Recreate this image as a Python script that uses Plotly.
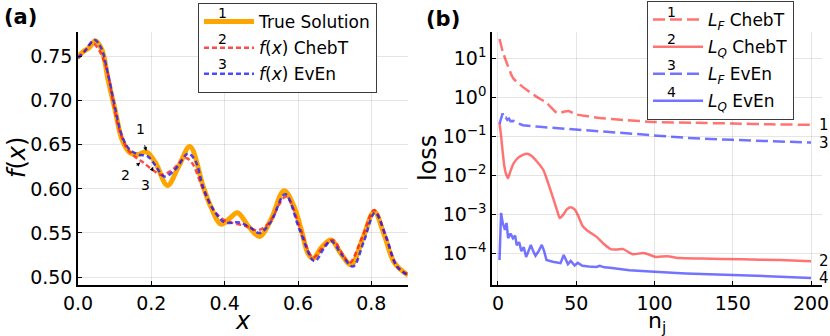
import math
import plotly.graph_objects as go

W, H = 830, 336

# ---------------- Panel (a) data ----------------
x_true = [0.0, 0.015, 0.03, 0.047, 0.065, 0.082, 0.101, 0.12, 0.142, 0.164, 0.186, 0.211, 0.244,
          0.274, 0.305, 0.342, 0.362, 0.390, 0.412, 0.435, 0.466, 0.495, 0.526, 0.562, 0.589, 0.61,
          0.627, 0.641, 0.665, 0.690, 0.718, 0.745, 0.776, 0.808, 0.835, 0.863, 0.9]
y_true = [0.750, 0.756, 0.760, 0.768, 0.758, 0.724, 0.690, 0.656, 0.641, 0.639, 0.642, 0.630, 0.604,
          0.625, 0.648, 0.602, 0.580, 0.560, 0.566, 0.573, 0.557, 0.546, 0.565, 0.598, 0.580, 0.552,
          0.527, 0.521, 0.534, 0.542, 0.526, 0.514, 0.543, 0.574, 0.548, 0.516, 0.502]

x_cheb = [0.0, 0.018, 0.038, 0.058, 0.079, 0.096, 0.115, 0.137, 0.16, 0.178, 0.202, 0.23, 0.258,
          0.293, 0.31, 0.342, 0.37, 0.397, 0.425, 0.457, 0.49, 0.52, 0.567, 0.608, 0.641, 0.668,
          0.695, 0.72, 0.74, 0.775, 0.808, 0.84, 0.87, 0.9]
y_cheb = [0.748, 0.756, 0.766, 0.757, 0.735, 0.698, 0.664, 0.644, 0.635, 0.630, 0.622, 0.616, 0.622,
          0.635, 0.630, 0.599, 0.576, 0.565, 0.561, 0.558, 0.553, 0.561, 0.591, 0.553, 0.522, 0.534,
          0.542, 0.527, 0.516, 0.545, 0.576, 0.545, 0.512, 0.503]

x_even = [0.0, 0.02, 0.045, 0.063, 0.082, 0.1, 0.12, 0.14, 0.164, 0.19, 0.212, 0.235, 0.265,
          0.30, 0.32, 0.342, 0.37, 0.40, 0.44, 0.47, 0.495, 0.525, 0.565, 0.605, 0.645, 0.67,
          0.69, 0.72, 0.75, 0.78, 0.81, 0.84, 0.87, 0.9]
y_even = [0.749, 0.757, 0.769, 0.760, 0.730, 0.694, 0.660, 0.645, 0.639, 0.637, 0.626, 0.614, 0.622,
          0.640, 0.632, 0.601, 0.576, 0.562, 0.562, 0.556, 0.550, 0.562, 0.594, 0.553, 0.518, 0.532,
          0.541, 0.525, 0.512, 0.541, 0.573, 0.546, 0.512, 0.502]

a_xticks = [0.0, 0.2, 0.4, 0.6, 0.8]
a_yticks = [0.50, 0.55, 0.60, 0.65, 0.70, 0.75]

# ---------------- Panel (b) data ----------------
n_lf_cheb = [1, 3, 5.7, 9.6, 16, 25, 31, 38, 42, 45, 50, 58, 65, 80, 100, 125, 150, 175, 200]
lf_cheb = [31, 15, 7.4, 3.1, 1.8, 1.0, 0.71, 0.39, 0.42, 0.44, 0.36, 0.32, 0.29, 0.26, 0.23,
           0.22, 0.21, 0.20, 0.195]

n_lf_even = [1, 2, 3, 4, 5, 6, 7, 8, 10, 12, 16, 25, 38, 50, 59, 78, 100, 121, 150, 175, 200]
lf_even = [0.21, 0.30, 0.38, 0.29, 0.30, 0.26, 0.28, 0.24, 0.245, 0.22, 0.19, 0.175, 0.16,
           0.145, 0.135, 0.12, 0.105, 0.09, 0.08, 0.074, 0.068]

n_lq_cheb = [1, 2, 3, 4, 5, 6.4, 8, 10, 13, 16, 18.5, 21, 25, 29, 32, 35, 37.7, 39.5, 42, 44,
             46.5, 49, 51, 54, 57, 63, 68, 72, 76, 80, 86, 93, 101, 108, 116, 130, 156, 180, 200]
lq_cheb = [0.214, 0.1, 0.04, 0.0178, 0.0112, 0.0083, 0.0126, 0.02, 0.028, 0.033, 0.035, 0.032,
           0.022, 0.0135, 0.0063, 0.00275, 0.00126, 0.00079, 0.001, 0.00132, 0.0015, 0.00132,
           0.00095, 0.0005, 0.00038, 0.00026, 0.000166, 0.000126, 0.000123, 0.000126, 0.0000933,
           0.0001, 0.0000794, 0.0000832, 0.0000741, 0.0000724, 0.0000692, 0.0000661, 0.0000617]

n_lq_even = [1, 2, 3, 4.5, 5.5, 6.5, 8, 9.6, 11, 12, 13.5, 15, 16.5, 18, 19.5, 21, 22.5, 24, 26,
             28, 29.5, 31, 35, 40, 42, 44.7, 46.5, 49, 51, 54, 58, 63, 65, 68, 71.5, 78, 84, 100,
             120, 150, 175, 200]
lq_even = [6.6e-5, 1.07e-3, 6.0e-4, 3.9e-4, 5.9e-4, 2.4e-4, 3.16e-4, 2.4e-4, 2.8e-4, 1.58e-4,
           1.9e-4, 1.12e-4, 1.41e-4, 7.9e-5, 1.12e-4, 1.62e-4, 1.12e-4, 8.5e-5, 1.12e-4, 1.62e-4,
           1.12e-4, 6.6e-5, 6.0e-5, 5.5e-5, 8.9e-5, 5.2e-5, 6.3e-5, 4.8e-5, 5.6e-5, 4.7e-5, 4.5e-5,
           4.4e-5, 4.7e-5, 4.3e-5, 4.2e-5, 3.9e-5, 3.6e-5, 3.3e-5, 3.0e-5, 2.75e-5, 2.5e-5, 2.3e-5]

b_xticks = [0, 50, 100, 150, 200]
b_yticks = [1e1, 1e0, 1e-1, 1e-2, 1e-3, 1e-4]
b_yticktext = ["10<sup>1</sup>", "10<sup>0</sup>", "10<sup>−1</sup>", "10<sup>−2</sup>",
               "10<sup>−3</sup>", "10<sup>−4</sup>"]

FONT = "DejaVu Sans"
ORANGE = "rgb(255,165,0)"
RED_A = "rgba(255,30,30,0.8)"
BLUE_A = "rgba(30,30,255,0.8)"
RED_B = "rgba(255,40,40,0.65)"
BLUE_B = "rgba(40,40,255,0.65)"

fig = go.Figure()

fig.add_trace(go.Scatter(x=x_true, y=y_true, mode="lines", name="True Solution", legendgroup="a1",
                         line=dict(color=ORANGE, width=5, shape="spline", smoothing=1.0),
                         xaxis="x", yaxis="y", legend="legend"))
fig.add_trace(go.Scatter(x=x_cheb, y=y_cheb, mode="lines", name="<i>f</i>(<i>x</i>) ChebT", legendgroup="a2",
                         line=dict(color=RED_A, width=2.5, dash="5px,3px", shape="spline", smoothing=1.0),
                         xaxis="x", yaxis="y", legend="legend"))
fig.add_trace(go.Scatter(x=x_even, y=y_even, mode="lines", name="<i>f</i>(<i>x</i>) EvEn", legendgroup="a3",
                         line=dict(color=BLUE_A, width=2.5, dash="5px,3px", shape="spline", smoothing=1.0),
                         xaxis="x", yaxis="y", legend="legend"))

fig.add_trace(go.Scatter(x=n_lf_cheb, y=lf_cheb, mode="lines", name="<i>L<sub>F</sub></i> ChebT", legendgroup="b1",
                         line=dict(color=RED_B, width=2.5, dash="12px,5px", shape="spline", smoothing=0.6),
                         xaxis="x2", yaxis="y2", legend="legend2"))
fig.add_trace(go.Scatter(x=n_lq_cheb, y=lq_cheb, mode="lines", name="<i>L<sub>Q</sub></i> ChebT", legendgroup="b2",
                         line=dict(color=RED_B, width=2.5, shape="spline", smoothing=0.6),
                         xaxis="x2", yaxis="y2", legend="legend2"))
fig.add_trace(go.Scatter(x=n_lf_even, y=lf_even, mode="lines", name="<i>L<sub>F</sub></i> EvEn", legendgroup="b3",
                         line=dict(color=BLUE_B, width=2.5, dash="12px,5px"),
                         xaxis="x2", yaxis="y2", legend="legend2"))
fig.add_trace(go.Scatter(x=n_lq_even, y=lq_even, mode="lines", name="<i>L<sub>Q</sub></i> EvEn", legendgroup="b4",
                         line=dict(color=BLUE_B, width=2.5),
                         xaxis="x2", yaxis="y2", legend="legend2"))

axis_common = dict(showline=True, linecolor="black", linewidth=1.5, mirror=False,
                   showgrid=True, gridcolor="rgba(0,0,0,0.1)", gridwidth=1, automargin=False,
                   ticks="inside", ticklen=4, tickcolor="black", zeroline=False,
                   tickfont=dict(family=FONT, size=19, color="black"))

def px_x(p):
    return p / W

def px_y(p):
    return 1 - p / H

fig.update_layout(
    width=W, height=H, margin=dict(l=0, r=0, t=0, b=0, autoexpand=False),
    paper_bgcolor="white", plot_bgcolor="white",
    font=dict(family=FONT, color="black"),
    xaxis=dict(domain=[px_x(78), px_x(408)], range=[0, 0.9], anchor="y",
               tickvals=a_xticks, tickformat=".1f", **axis_common),
    yaxis=dict(domain=[px_y(285), px_y(32)], range=[0.491, 0.778], anchor="x",
               tickvals=a_yticks, tickformat=".2f", **axis_common),
    xaxis2=dict(domain=[px_x(492), px_x(822)], range=[-3.8, 207], anchor="y2",
                tickvals=b_xticks, **axis_common),
    yaxis2=dict(domain=[px_y(285), px_y(32)], type="log", range=[-4.82, 1.67], anchor="x2",
                tickvals=b_yticks, ticktext=b_yticktext, **axis_common),
    legend=dict(x=px_x(198), y=px_y(3), xanchor="left", yanchor="top",
                bgcolor="white", bordercolor="rgb(60,60,60)", borderwidth=1,
                font=dict(family=FONT, size=17), itemwidth=50, tracegroupgap=1),
    legend2=dict(x=px_x(647), y=px_y(1), xanchor="left", yanchor="top",
                 bgcolor="white", bordercolor="rgb(60,60,60)", borderwidth=1,
                 font=dict(family=FONT, size=17), itemwidth=50, tracegroupgap=2),
)

annots = []

def lbl(text, x, y, size, angle=0, xa="center", ya="middle"):
    annots.append(dict(text=text, x=px_x(x), y=px_y(y), xref="paper", yref="paper",
                       xanchor=xa, yanchor=ya, showarrow=False, textangle=angle,
                       font=dict(size=size)))

# panel labels
lbl("<b>(a)</b>", 2, 17, 21, xa="left")
lbl("<b>(b)</b>", 424, 19, 21, xa="left")

# axis titles
lbl("<i>x</i>", 243, 321, 24)
lbl("<i>f</i>(<i>x</i>)", 17, 158, 24, angle=-90)
lbl("n<sub>j</sub>", 657, 322, 22)
lbl("loss", 428, 158, 24, angle=-90)

# arrow labels in panel (a)
arrow_lbls = [("1", 0.186, 0.643, 0.170, 0.668),
              ("2", 0.170, 0.630, 0.129, 0.616),
              ("3", 0.205, 0.625, 0.184, 0.605)]
for t, hx, hy, tx, ty in arrow_lbls:
    annots.append(dict(text=t, x=hx, y=hy, ax=tx, ay=ty, xref="x", yref="y", axref="x", ayref="y",
                       showarrow=True, arrowhead=2, arrowsize=0.8, arrowwidth=1, arrowcolor="black",
                       font=dict(size=14), standoff=0, startstandoff=7))

# end-of-line labels in panel (b)
end_lbls = [("1", lf_cheb[-1]), ("3", lf_even[-1]), ("2", lq_cheb[-1]), ("4", lq_even[-1])]
for t, v in end_lbls:
    annots.append(dict(text=t, x=203.5, y=math.log10(v), xref="x2", yref="y2",
                       xanchor="left", yanchor="middle", showarrow=False, font=dict(size=15)))

# numbers above legend samples
for i, t in enumerate(["1", "2", "3"]):
    lbl(t, 222, 13 + 25.5 * i, 14)
for i, t in enumerate(["1", "2", "3", "4"]):
    lbl(t, 671, 12 + 26.5 * i, 14)

fig.update_layout(annotations=annots)
fig.write_html("out.html", config={"displayModeBar": False},
               post_script=["document.body.style.margin='0px';"])
